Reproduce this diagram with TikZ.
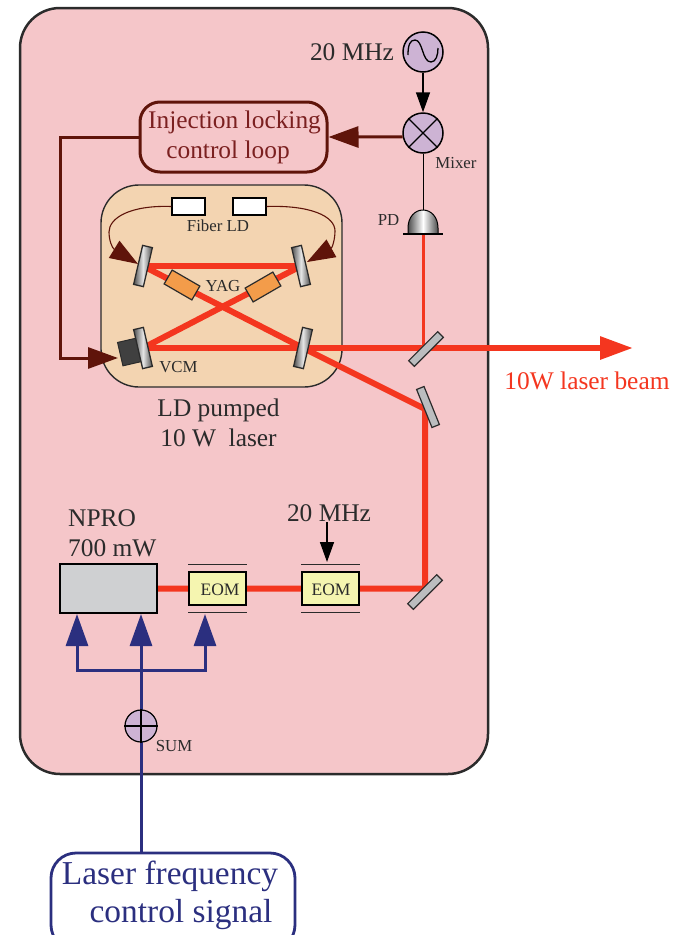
\documentclass[tikz,border=0pt]{standalone}
\usepackage{fontspec}
\setmainfont{Liberation Serif}
\usetikzlibrary{arrows.meta}
\definecolor{pinkbg}{HTML}{F5C6C9}
\definecolor{tanbg}{HTML}{F3D4B1}
\definecolor{ink}{HTML}{2B2B2B}
\definecolor{laser}{HTML}{F4361F}
\definecolor{maroon}{HTML}{5F140A}
\definecolor{maroontxt}{HTML}{7B2020}
\definecolor{navy}{HTML}{2B2F7F}
\definecolor{lilac}{HTML}{CDB3D4}
\definecolor{steel}{HTML}{BBBDBF}
\definecolor{nprogray}{HTML}{CFD0D2}
\definecolor{eomyel}{HTML}{F5F5B0}
\definecolor{yag}{HTML}{F39C4A}
\pgfdeclarelayer{back}
\pgfdeclarelayer{beams}
\pgfsetlayers{back,beams,main}
\tikzset{
  label12/.style={text=ink,inner sep=0pt,font=\fontsize{25.4}{30}\selectfont,align=center},
  label8/.style={text=ink,inner sep=0pt,font=\fontsize{16.8}{20}\selectfont},
  beam/.style={draw=laser,line width=6pt},
  curvedmirror/.style={draw=ink,line width=1.3pt,minimum width=10pt,minimum height=40pt,inner sep=0pt,
    left color=gray!60!black,right color=gray!60!black,middle color=gray!20},
  flatmirror/.style={draw=ink,line width=1.2pt,fill=steel,minimum width=8pt,minimum height=41pt,inner sep=0pt},
  crystal/.style={draw=ink,line width=1.2pt,fill=yag,minimum width=32pt,minimum height=16pt,inner sep=0pt},
  eombox/.style={draw=black,line width=1.5pt,fill=eomyel,minimum width=57pt,minimum height=33pt,inner sep=0pt},
  plate/.style={draw=ink,line width=1.3pt},
  roundcirc/.style={circle,draw=black,line width=1.5pt,fill=lilac,inner sep=0pt},
  wbox/.style={draw=black,line width=1.2pt,fill=white,minimum width=33pt,minimum height=17pt,inner sep=0pt},
  maroonline/.style={draw=maroon,line width=3pt},
  bluefat/.style={draw=navy,line width=3pt},
  maroontip/.style={-{Triangle[length=30pt,width=21pt]},maroonline},
  bluetip/.style={-{Triangle[length=32pt,width=22pt]},bluefat},
  blacktip/.style={-{Triangle[length=20pt,width=14pt]},draw=black,line width=1.5pt}
}
\begin{document}
\begin{tikzpicture}[x=1pt,y=-1pt]
\path[use as bounding box] (0,0) rectangle (682,935);

\begin{pgfonlayer}{back}
\node[draw=ink,line width=2.5pt,fill=pinkbg,rounded corners=40pt,minimum width=468pt,minimum height=766pt,inner sep=0pt] (outer) at (254,391) {};
\node[draw=ink,line width=1.4pt,fill=tanbg,rounded corners=38pt,minimum width=241pt,minimum height=202pt,inner sep=0pt] (ldbox) at (221.5,286) {};
\end{pgfonlayer}

% mirrors
\node[curvedmirror,rotate=-13] (mTL) at (143,266) {};
\node[curvedmirror,rotate=13]  (mTR) at (301,266) {};
\node[curvedmirror,rotate=13]  (mBL) at (143,348) {};
\node[curvedmirror,rotate=-13] (mBR) at (303,348) {};
\node[flatmirror,rotate=22] (mSteer) at (428,407) {};
\node[flatmirror,rotate=-45] (mFold) at (425,592) {};
\node[flatmirror,rotate=-45] (mSplit) at (426,349) {};
\begin{pgfonlayer}{beams}
\node[draw=ink,line width=1pt,fill=ink!90,minimum width=19pt,minimum height=24pt,inner sep=0pt,rotate=13] (vcm) at (129.5,352) {};
\end{pgfonlayer}
\coordinate (vcmtip) at (118,358);
\coordinate (turn) at (425,409);
\coordinate (beamend) at (633,348);

% crystals
\node[crystal,rotate=-30] (yagL) at (182,285) {};
\node[crystal,rotate=30]  (yagR) at (263,287) {};

% laser sources
\node[draw=black,line width=1.5pt,fill=nprogray,minimum width=97pt,minimum height=49pt,inner sep=0pt] (npro) at (108.5,588.5) {};
\node[eombox] (eomA) at (217.5,588.5) {};
\node[eombox] (eomB) at (330.5,588.5) {};
\node[text=ink,inner sep=0pt,font=\fontsize{17.5}{20}\selectfont] (eomAt) at (220,589.5) {EOM};
\node[text=ink,inner sep=0pt,font=\fontsize{17.5}{20}\selectfont] (eomBt) at (331,589.5) {EOM};
\draw[plate] ([yshift=24.3pt]eomA.west) -- ([yshift=24.3pt]eomA.east);
\draw[plate] ([yshift=-24.3pt]eomA.west) -- ([yshift=-24.3pt]eomA.east);
\draw[plate] ([yshift=24.3pt]eomB.west) -- ([yshift=24.3pt]eomB.east);
\draw[plate] ([yshift=-24.3pt]eomB.west) -- ([yshift=-24.3pt]eomB.east);

% beams
\begin{pgfonlayer}{beams}
\draw[beam] (mTL.center) -- (mTR.center);
\draw[beam] (mBL.center) -- (mTR.center);
\draw[beam] (mTL.center) -- (mBR.center) -- (turn) -- (mFold.center |- npro.east) -- (npro.east);
\draw[beam,-{Triangle[length=33pt,width=22pt]}] (mBL.center) -- (beamend);
\end{pgfonlayer}

% oscillator and mixer
\node[roundcirc,minimum size=40pt] (osc) at (423,52) {};
\draw[line width=1.3pt,black] (408,55) .. controls (408,45) and (410,40) .. (415,40) .. controls (423,40) and (422,62) .. (431,62) .. controls (436,62) and (438,55) .. (438,48);
\node[roundcirc,minimum size=40pt] (mixer) at (423,133) {};
\draw[line width=1.3pt,black] (mixer.45) -- (mixer.225) (mixer.135) -- (mixer.315);
\draw[blacktip] (osc.south) -- (mixer.north);

% photodiode
\coordinate (pdtop) at (423,210);
\coordinate (pdbase) at (423,234);
\shade[left color=gray!60!black,right color=gray!60!black,middle color=white]
  (408,234) -- (408,228) .. controls (408,217) and (415,210) .. (pdtop) .. controls (431,210) and (438,217) .. (438,228) -- (438,234) -- cycle;
\draw[draw=black,line width=1pt] (408,234) -- (408,228) .. controls (408,217) and (415,210) .. (pdtop) .. controls (431,210) and (438,217) .. (438,228) -- (438,234);
\draw[black,line width=1.2pt] (403,234) -- (443,234);
\draw[black,line width=1pt] (mixer.south) -- (pdtop);
\begin{pgfonlayer}{beams}
\draw[draw=laser,line width=3pt] (pdbase) -- (423,348);
\end{pgfonlayer}

% injection locking
\node[draw=maroon,line width=3pt,fill=pinkbg,rounded corners=20pt,minimum width=187pt,minimum height=70pt,inner sep=0pt] (inj) at (233.5,137) {};
\node[inner sep=0pt,text=maroontxt,font=\fontsize{25.4}{30}\selectfont] (injA) at (234.5,122) {Injection locking};
\node[inner sep=0pt,text=maroontxt,font=\fontsize{25.4}{30}\selectfont] (injB) at (228,152) {control loop};
\draw[maroontip] (mixer.191) -- (inj.east);
\coordinate (loopcorner) at (60,137);
\draw[maroontip] (inj.west) -- (loopcorner) |- (vcmtip);

% fiber LD
\node[wbox] (ldA) at (188.5,206.5) {};
\node[wbox] (ldB) at (249.5,206.5) {};
\coordinate (tipL) at (138,264);
\coordinate (tipR) at (307,262);
\draw[draw=maroon,line width=1.1pt,-{Triangle[length=28pt,width=20pt]}] (ldA.west) .. controls (130,205) and (109,218) .. (109,232) .. controls (109,240) and (112,248) .. (tipL);
\draw[draw=maroon,line width=1.1pt,-{Triangle[length=28pt,width=20pt]}] (ldB.east) .. controls (310,205) and (335,216) .. (335,231) .. controls (335,240) and (332,248) .. (tipR);

% 20 MHz to EOM
\node[label12] (mhzA) at (352,52) {20 MHz};
\node[label12] (mhzB) at (329,513) {20 MHz};
\coordinate (eomtip) at (327,562);
\draw[blacktip] (327,522) -- (eomtip);

% control signal
\node[roundcirc,minimum size=32pt,line width=1.2pt] (sum) at (141,726) {};
\draw[black,line width=1.2pt] (sum.west) -- (sum.east) (sum.north) -- (sum.south);
\coordinate (sigtop) at (141,853);
\coordinate (tipA) at (77,614);
\coordinate (tipB) at (141,614);
\coordinate (tipC) at (205,614);
\coordinate (join) at (141,670);
\begin{pgfonlayer}{beams}
\draw[bluetip] (sigtop) -- (tipB);
\draw[bluetip] (join) -| (tipA);
\draw[bluetip] (join) -| (tipC);
\end{pgfonlayer}
\begin{scope}
\clip (0,0) rectangle (682,935);
\node[draw=navy,line width=2.8pt,rounded corners=25pt,minimum width=244pt,minimum height=97pt,inner sep=0pt] (sig) at (173,901.5) {};
\end{scope}
\node[text=navy,inner sep=0pt,font=\fontsize{33.4}{36}\selectfont] (sigA) at (170,876) {Laser frequency};
\node[text=navy,inner sep=0pt,font=\fontsize{33.4}{36}\selectfont] (sigB) at (181,915) {control signal};

% labels
\node[label8] (lfiber) at (218,226) {Fiber LD};
\node[label8] (lyag) at (223,286) {YAG};
\node[label8] (lvcm) at (178.5,367) {VCM};
\node[label8] (lpd) at (388.5,220) {PD};
\node[label8] (lmix) at (456,163) {Mixer};
\node[label8] (lsum) at (174,746) {SUM};
\node[label12] (lld) at (218.5,422.5) {LD pumped\\10 W\ \ laser};
\node[label12,align=left,anchor=west] (lnpro) at (68,533) {NPRO\\700 mW};
\node[label12,text=laser] (lbeam) at (587,381) {10W laser beam};
\end{tikzpicture}
\end{document}
